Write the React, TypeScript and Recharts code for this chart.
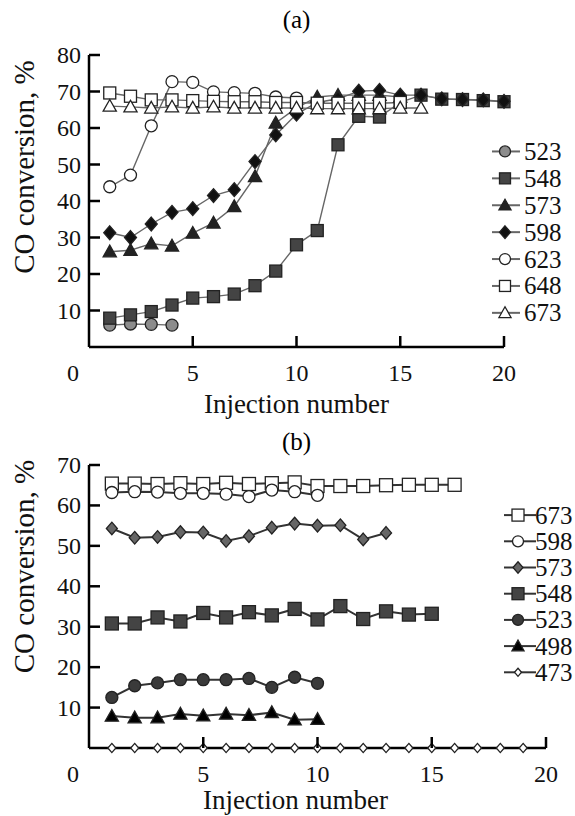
import React from "react";
import { LineChart, Line, XAxis, YAxis, Label } from "recharts";

const FONT = '"Liberation Serif", "Times New Roman", serif';

// x ticks shared by both panels
const X_TICKS = [0, 5, 10, 15, 20];
const Y_TICKS_A = [10, 20, 30, 40, 50, 60, 70, 80];
const Y_TICKS_B = [10, 20, 30, 40, 50, 60, 70];

// (a) CO conversion per injection, one list per temperature (K); injection 1..n
const A_523 = [6.0, 6.3, 6.2, 6.0];
const A_548 = [7.9, 8.8, 9.7, 11.5, 13.4, 13.8, 14.5, 16.8, 20.8, 28.0, 31.9, 55.4, 63.2, 63.0, 67.0, 69.0, 67.9, 67.8, 67.5, 67.2];
const A_573 = [26.1, 26.5, 28.3, 27.7, 31.2, 34.0, 38.5, 46.7, 61.4, 65.5, 68.5, 69.0, 69.0, 69.0, 68.5];
const A_598 = [31.3, 30.0, 33.7, 36.9, 37.9, 41.5, 43.1, 50.8, 58.1, 63.8, 67.0, 68.0, 70.1, 70.3, 69.0, 69.0, 68.0, 67.8, 67.7, 67.3];
const A_623 = [43.9, 47.1, 60.6, 72.7, 72.5, 69.9, 69.7, 69.5, 68.5, 68.2];
const A_648 = [69.6, 68.7, 67.7, 67.7, 67.5, 67.3, 67.2, 67.2, 67.0, 67.0, 66.8, 66.8, 66.8, 66.8, 67.0];
const A_673 = [66.0, 65.8, 65.5, 65.8, 65.5, 65.8, 65.5, 65.5, 65.5, 65.5, 65.3, 65.3, 65.3, 65.3, 65.5, 65.5];

// (b)
const B_673 = [65.4, 65.4, 65.3, 65.5, 65.3, 65.6, 65.3, 65.5, 65.7, 64.8, 64.8, 64.8, 65.0, 65.1, 65.1, 65.1];
const B_598 = [63.2, 63.4, 63.3, 63.0, 63.0, 62.8, 62.2, 63.8, 63.4, 62.5];
const B_573 = [54.3, 52.0, 52.2, 53.4, 53.3, 51.2, 52.4, 54.5, 55.5, 55.0, 55.1, 51.6, 53.2];
const B_548 = [30.8, 30.8, 32.3, 31.3, 33.4, 32.3, 33.6, 32.8, 34.4, 31.8, 35.1, 31.9, 33.8, 33.0, 33.2];
const B_523 = [12.5, 15.4, 16.1, 16.9, 16.9, 16.9, 17.2, 15.0, 17.5, 16.0];
const B_498 = [7.9, 7.5, 7.5, 8.4, 8.0, 8.4, 8.1, 8.8, 7.0, 7.1];
const B_473 = [0, 0, 0, 0, 0, 0, 0, 0, 0, 0, 0, 0, 0, 0, 0, 0, 0, 0, 0];

type ShapeKind = "circle" | "square" | "triangle" | "diamond";
type Series = { name: string; values: number[]; shape: ShapeKind; size: number; fill: string };

const toPoints = (vals: number[]) => vals.map((v, i) => ({ x: i + 1, y: v }));

const SERIES_A: Series[] = [
  { name: "523", values: A_523, shape: "circle", size: 12, fill: "#8c8c8c" },
  { name: "548", values: A_548, shape: "square", size: 12, fill: "#444" },
  { name: "573", values: A_573, shape: "triangle", size: 12, fill: "#222" },
  { name: "598", values: A_598, shape: "diamond", size: 12, fill: "#111" },
  { name: "623", values: A_623, shape: "circle", size: 12, fill: "#fff" },
  { name: "648", values: A_648, shape: "square", size: 12, fill: "#fff" },
  { name: "673", values: A_673, shape: "triangle", size: 12, fill: "#fff" },
];

const SERIES_B: Series[] = [
  { name: "673", values: B_673, shape: "square", size: 13, fill: "#fff" },
  { name: "598", values: B_598, shape: "circle", size: 12, fill: "#fff" },
  { name: "573", values: B_573, shape: "diamond", size: 11, fill: "#666" },
  { name: "548", values: B_548, shape: "square", size: 13, fill: "#444" },
  { name: "523", values: B_523, shape: "circle", size: 12, fill: "#3a3a3a" },
  { name: "498", values: B_498, shape: "triangle", size: 12, fill: "#000" },
  { name: "473", values: B_473, shape: "diamond", size: 8, fill: "#fff" },
];

function Shape({ shape, cx, cy, size, fill }: { shape: ShapeKind; cx: number; cy: number; size: number; fill: string }) {
  const h = size / 2;
  const common = { fill, stroke: "#222", strokeWidth: 1.3 };
  if (shape === "circle") return <circle cx={cx} cy={cy} r={h} {...common} />;
  if (shape === "square") return <rect x={cx - h} y={cy - h} width={size} height={size} {...common} />;
  if (shape === "triangle")
    return <polygon points={`${cx},${cy - h * 1.1} ${cx - h * 1.1},${cy + h * 0.85} ${cx + h * 1.1},${cy + h * 0.85}`} {...common} />;
  return <polygon points={`${cx},${cy - h * 1.15} ${cx + h},${cy} ${cx},${cy + h * 1.15} ${cx - h},${cy}`} {...common} />;
}

const dotFor = (s: Series) => (p: any) => {
  if (p.cx == null || p.cy == null) return <g key={p.index} />;
  return <Shape key={p.index} shape={s.shape} cx={p.cx} cy={p.cy} size={s.size} fill={s.fill} />;
};

const TICK_GAP = 8;

function XTick({ x, y, payload }: any) {
  const axisY = y - TICK_GAP;
  const v = payload.value;
  return (
    <g>
      {v !== 0 && <line x1={x} x2={x} y1={axisY} y2={axisY - 11} stroke="#000" strokeWidth={2.5} />}
      <text x={v === 0 ? x - 16 : x} y={axisY + 34} textAnchor="middle" fontSize={24} fontFamily={FONT} fill="#111">
        {v}
      </text>
    </g>
  );
}

function YTick({ x, y, payload }: any) {
  const axisX = x + TICK_GAP;
  return (
    <g>
      <line x1={axisX} x2={axisX + 11} y1={y} y2={y} stroke="#000" strokeWidth={2.5} />
      <text x={axisX - 8} y={y + 8} textAnchor="end" fontSize={24} fontFamily={FONT} fill="#111">
        {payload.value}
      </text>
    </g>
  );
}

const makeYLabel = (shift: number) => ({ viewBox }: any) => {
  const cx = viewBox.x - 25;
  const cy = viewBox.y + viewBox.height / 2 + shift;
  return (
    <text x={cx} y={cy} transform={`rotate(-90, ${cx}, ${cy})`} textAnchor="middle" dominantBaseline="central" fontSize={29} fontFamily={FONT} fill="#111">
      CO conversion, %
    </text>
  );
};

const makeXLabel = (shift: number, drop: number) => ({ viewBox }: any) => (
  <text x={viewBox.x + viewBox.width / 2 + shift} y={viewBox.y + drop} textAnchor="middle" fontSize={27} fontFamily={FONT} fill="#111">
    Injection number
  </text>
);

function Panel({ series, yMax, yTicks, width, height, margin, lineColor, lineWidth, xShift, xDrop, yShift }: any) {
  const XL = makeXLabel(xShift, xDrop);
  const YL = makeYLabel(yShift);
  return (
    <LineChart width={width} height={height} margin={margin}>
      <XAxis
        type="number"
        dataKey="x"
        domain={[0, 20]}
        ticks={X_TICKS}
        allowDuplicatedCategory={false}
        tickLine={false}
        tickSize={0}
        tickMargin={TICK_GAP}
        height={30}
        axisLine={{ stroke: "#000", strokeWidth: 2.5 }}
        tick={<XTick />}
      >
        <Label content={<XL />} />
      </XAxis>
      <YAxis
        type="number"
        dataKey="y"
        domain={[0, yMax]}
        ticks={yTicks}
        tickLine={false}
        tickSize={0}
        tickMargin={TICK_GAP}
        width={40}
        axisLine={{ stroke: "#000", strokeWidth: 2.5 }}
        tick={<YTick />}
      >
        <Label content={<YL />} />
      </YAxis>
      {series.map((s: Series) => (
        <Line
          key={s.name}
          data={toPoints(s.values)}
          dataKey="y"
          name={s.name}
          stroke={lineColor}
          strokeWidth={lineWidth}
          dot={dotFor(s)}
          activeDot={false}
          isAnimationActive={false}
        />
      ))}
    </LineChart>
  );
}

function LegendBox({ series, left, top, rowH, lineX1, lineX2, markerX, textX, lineColor }: any) {
  return (
    <svg width={90} height={rowH * series.length + 10} style={{ position: "absolute", left, top }}>
      {series.map((s: Series, i: number) => {
        const cy = 5 + rowH * i + rowH / 2;
        return (
          <g key={s.name}>
            <line x1={lineX1} x2={lineX2} y1={cy} y2={cy} stroke={lineColor} strokeWidth={2} />
            <Shape shape={s.shape} cx={markerX} cy={cy} size={s.size - 1} fill={s.fill} />
            <text x={textX} y={cy + 8.5} fontSize={25} fontFamily={FONT} fill="#111">
              {s.name}
            </text>
          </g>
        );
      })}
    </svg>
  );
}

export default function App() {
  return (
    <div style={{ position: "absolute", left: 0, top: 0, width: 575, height: 816, background: "#fff", fontFamily: FONT }}>
      <div style={{ position: "absolute", left: 0, top: 0 }}>
        <Panel
          series={SERIES_A}
          yMax={80}
          yTicks={Y_TICKS_A}
          width={575}
          height={430}
          margin={{ top: 55, right: 71, left: 49, bottom: 53 }}
          lineColor="#666"
          lineWidth={1.4}
          xShift={0}
          xDrop={66}
          yShift={-34}
        />
      </div>
      <div style={{ position: "absolute", left: 0, top: 410 }}>
        <Panel
          series={SERIES_B}
          yMax={70}
          yTicks={Y_TICKS_B}
          width={575}
          height={406}
          margin={{ top: 55, right: 29, left: 49, bottom: 38 }}
          lineColor="#333"
          lineWidth={2}
          xShift={-22}
          xDrop={61}
          yShift={-40}
        />
      </div>
      <div style={{ position: "absolute", left: 0, width: 575, top: 6, textAlign: "center", fontSize: 25, paddingLeft: 18, boxSizing: "border-box" }}>(a)</div>
      <div style={{ position: "absolute", left: 0, width: 575, top: 428, textAlign: "center", fontSize: 25, paddingLeft: 18, boxSizing: "border-box" }}>(b)</div>
      <LegendBox series={SERIES_A} left={488} top={133} rowH={26.9} lineX1={4} lineX2={32} markerX={17} textX={36} lineColor="#666" />
      <LegendBox series={SERIES_B} left={500} top={497} rowH={26.2} lineX1={4} lineX2={36} markerX={18} textX={35} lineColor="#333" />
    </div>
  );
}
